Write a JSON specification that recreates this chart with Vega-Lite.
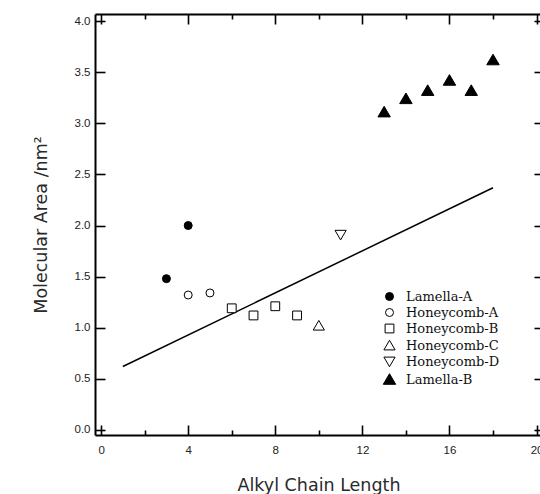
{
  "$schema": "https://vega.github.io/schema/vega-lite/v6.json",
  "width": 447,
  "height": 421,
  "autosize": "none",
  "padding": {"left": 95, "top": 14, "right": 0, "bottom": 59},
  "background": "white",
  "config": {
    "view": {"stroke": null},
    "axis": {
      "grid": false,
      "domainColor": "black",
      "domainWidth": 2,
      "tickColor": "black",
      "tickWidth": 1.6,
      "labelFont": "Liberation Sans",
      "labelFontSize": 11.5,
      "labelColor": "#222",
      "labelFlush": false,
      "labelOverlap": false,
      "titleFont": "DejaVu Sans",
      "titleFontSize": 17.5,
      "titleFontWeight": "normal",
      "titleColor": "#2a2a2a"
    },
    "legend": {
      "labelFont": "DejaVu Serif",
      "labelFontSize": 13,
      "labelColor": "#111",
      "symbolStrokeWidth": 1,
      "symbolSize": 64,
      "rowPadding": 2,
      "labelOffset": 10
    }
  },
  "datasets": {
    "points": [
      {"series": "Lamella-A", "chain": 3, "area": 1.48},
      {"series": "Lamella-A", "chain": 4, "area": 2.0},
      {"series": "Honeycomb-A", "chain": 4, "area": 1.32},
      {"series": "Honeycomb-A", "chain": 5, "area": 1.34},
      {"series": "Honeycomb-B", "chain": 6, "area": 1.19},
      {"series": "Honeycomb-B", "chain": 7, "area": 1.12},
      {"series": "Honeycomb-B", "chain": 8, "area": 1.21},
      {"series": "Honeycomb-B", "chain": 9, "area": 1.12},
      {"series": "Honeycomb-C", "chain": 10, "area": 1.02},
      {"series": "Honeycomb-D", "chain": 11, "area": 1.91},
      {"series": "Lamella-B", "chain": 13, "area": 3.11},
      {"series": "Lamella-B", "chain": 14, "area": 3.24},
      {"series": "Lamella-B", "chain": 15, "area": 3.32},
      {"series": "Lamella-B", "chain": 16, "area": 3.42},
      {"series": "Lamella-B", "chain": 17, "area": 3.32},
      {"series": "Lamella-B", "chain": 18, "area": 3.62}
    ],
    "fit": [
      {"chain": 1, "area": 0.62},
      {"chain": 18, "area": 2.37}
    ]
  },
  "layer": [
    {
      "data": {"name": "fit"},
      "mark": {"type": "line", "color": "black", "strokeWidth": 1.5},
      "encoding": {
        "x": {
          "field": "chain", "type": "quantitative",
          "scale": {"domain": [-0.28, 20.25], "nice": false, "zero": false},
          "axis": {
            "orient": "bottom",
            "title": "Alkyl Chain Length",
            "values": [0, 2, 4, 6, 8, 10, 12, 14, 16, 18, 20],
            "labelExpr": "datum.value % 4 === 0 ? datum.label : ''",
            "tickSize": {"condition": {"test": "datum.value % 4 === 0", "value": -10}, "value": -5},
            "labelPadding": 19,
            "titlePadding": 16
          }
        },
        "y": {
          "field": "area", "type": "quantitative",
          "scale": {"domain": [-0.05, 4.07], "nice": false, "zero": false},
          "axis": {
            "orient": "left",
            "title": "Molecular Area /nm²",
            "values": [0, 0.5, 1, 1.5, 2, 2.5, 3, 3.5, 4],
            "format": ".1f",
            "tickSize": -10,
            "labelPadding": 15,
            "titlePadding": 24
          }
        }
      }
    },
    {
      "data": {"name": "points"},
      "mark": {"type": "point", "filled": true, "strokeWidth": 1, "opacity": 1, "size": 64},
      "encoding": {
        "x": {
          "field": "chain", "type": "quantitative",
          "axis": {
            "orient": "top",
            "title": null,
            "labels": false,
            "values": [0, 2, 4, 6, 8, 10, 12, 14, 16, 18, 20],
            "tickSize": {"condition": {"test": "datum.value % 4 === 0", "value": -10}, "value": -5}
          }
        },
        "y": {
          "field": "area", "type": "quantitative",
          "axis": {
            "orient": "right",
            "title": null,
            "labels": false,
            "values": [0, 0.5, 1, 1.5, 2, 2.5, 3, 3.5, 4],
            "tickSize": -8
          }
        },
        "shape": {
          "field": "series", "type": "nominal",
          "scale": {
            "domain": ["Lamella-A", "Honeycomb-A", "Honeycomb-B", "Honeycomb-C", "Honeycomb-D", "Lamella-B"],
            "range": [
              "circle",
              "circle",
              "M-1.1,-1.1L1.1,-1.1L1.1,1.1L-1.1,1.1Z",
              "M0,-1.3L1.4,1.1L-1.4,1.1Z",
              "M0,1.3L1.4,-1.1L-1.4,-1.1Z",
              "M0,-1.45L1.55,1.2L-1.55,1.2Z"
            ]
          },
          "legend": {"title": null, "orient": "none", "legendX": 288, "legendY": 276}
        },
        "fill": {
          "field": "series", "type": "nominal",
          "scale": {
            "domain": ["Lamella-A", "Honeycomb-A", "Honeycomb-B", "Honeycomb-C", "Honeycomb-D", "Lamella-B"],
            "range": ["black", "white", "white", "white", "white", "black"]
          },
          "legend": {"title": null, "orient": "none", "legendX": 288, "legendY": 276}
        },
        "stroke": {
          "field": "series", "type": "nominal",
          "scale": {
            "domain": ["Lamella-A", "Honeycomb-A", "Honeycomb-B", "Honeycomb-C", "Honeycomb-D", "Lamella-B"],
            "range": ["black", "black", "black", "black", "black", "black"]
          },
          "legend": {"title": null, "orient": "none", "legendX": 288, "legendY": 276}
        }
      }
    }
  ],
  "resolve": {"axis": {"x": "independent", "y": "independent"}}
}
